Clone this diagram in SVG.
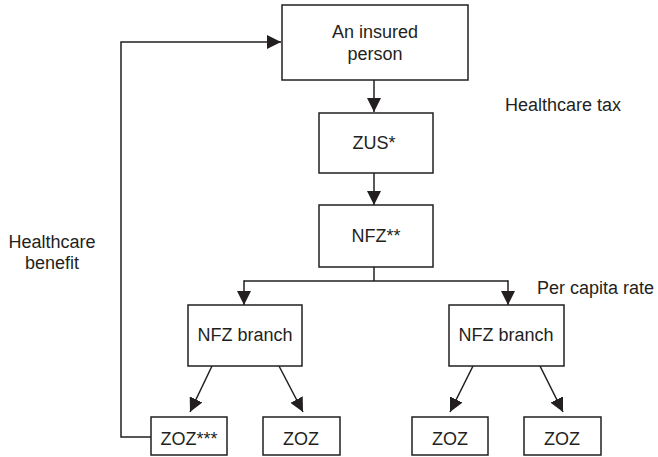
<svg xmlns="http://www.w3.org/2000/svg" width="658" height="457" viewBox="0 0 658 457">
<style>
.box{fill:#fff;stroke:#231f20;stroke-width:1.5}
.t{font-family:"Liberation Sans",Arial,sans-serif;font-size:18px;fill:#231f20;text-anchor:middle}
.l{font-family:"Liberation Sans",Arial,sans-serif;font-size:18px;fill:#231f20}
.c{fill:none;stroke:#231f20;stroke-width:1.5}
</style>
<defs>
<marker id="ah" viewBox="0 0 14 14" refX="14" refY="7" markerWidth="14" markerHeight="14" markerUnits="userSpaceOnUse" orient="auto">
<path d="M0,0 L14,7 L0,14 Z" fill="#231f20"/>
</marker>
</defs>
<rect width="658" height="457" fill="#fff"/>
<g id="connectors">
<line class="c" x1="374" y1="80" x2="374" y2="112" marker-end="url(#ah)"/>
<line class="c" x1="374" y1="173" x2="374" y2="205" marker-end="url(#ah)"/>
<line class="c" x1="374" y1="267" x2="374" y2="281"/>
<polyline class="c" points="244,281 508,281"/>
<line class="c" x1="244" y1="280.25" x2="244" y2="305" marker-end="url(#ah)"/>
<line class="c" x1="508" y1="280.25" x2="508" y2="305" marker-end="url(#ah)"/>
<line class="c" x1="212" y1="366" x2="190" y2="412" marker-end="url(#ah)"/>
<line class="c" x1="279" y1="366" x2="303" y2="412" marker-end="url(#ah)"/>
<line class="c" x1="473" y1="366" x2="450" y2="412" marker-end="url(#ah)"/>
<line class="c" x1="540" y1="366" x2="563" y2="412" marker-end="url(#ah)"/>
<polyline class="c" points="151,437 121,437 121,42 281,42" marker-end="url(#ah)"/>
</g>
<g id="insured"><rect class="box" x="282" y="5" width="186" height="75"/><text class="t" x="375" y="38">An insured</text><text class="t" x="375" y="60">person</text></g>
<g id="zus"><rect class="box" x="319" y="113" width="114" height="60"/><text class="t" x="374" y="149">ZUS*</text></g>
<g id="nfz"><rect class="box" x="319" y="205" width="114" height="62"/><text class="t" x="376" y="242">NFZ**</text></g>
<g id="branch1"><rect class="box" x="188" y="305" width="114" height="61"/><text class="t" x="245" y="341">NFZ branch</text></g>
<g id="branch2"><rect class="box" x="449" y="305" width="115" height="61"/><text class="t" x="506" y="341">NFZ branch</text></g>
<g id="zoz1"><rect class="box" x="151" y="417" width="76" height="38"/><text class="t" x="189" y="445">ZOZ***</text></g>
<g id="zoz2"><rect class="box" x="263" y="417" width="77" height="38"/><text class="t" x="301" y="445">ZOZ</text></g>
<g id="zoz3"><rect class="box" x="412" y="417" width="76" height="38"/><text class="t" x="450" y="445">ZOZ</text></g>
<g id="zoz4"><rect class="box" x="524" y="417" width="77" height="38"/><text class="t" x="562" y="445">ZOZ</text></g>
<g id="labels">
<text class="l" x="505" y="111">Healthcare tax</text>
<text class="t" x="52" y="248">Healthcare</text>
<text class="t" x="52" y="269">benefit</text>
<text class="l" x="537" y="294">Per capita rate</text>
</g>
</svg>
